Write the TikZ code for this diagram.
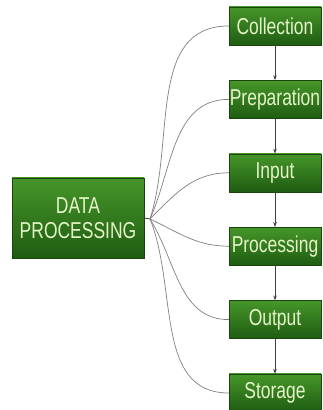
\documentclass[tikz,border=0pt]{standalone}
\usepackage{fontspec}
\setmainfont[FakeStretch=0.76]{Liberation Sans}
\usetikzlibrary{positioning,arrows.meta}
\definecolor{boxtop}{HTML}{46962A}
\definecolor{boxbot}{HTML}{1F5C12}
\definecolor{boxline}{HTML}{1A460C}
\definecolor{boxtext}{HTML}{E4F4C6}
\definecolor{fanline}{HTML}{808080}

\begin{document}
\begin{tikzpicture}[x=1pt, y=1pt,
    stage/.style={draw=boxline, top color=boxtop, bottom color=boxbot, text=boxtext,
      minimum width=92pt, minimum height=38pt, inner sep=0pt,
      font=\fontsize{23}{25}\selectfont},
    fan/.style={fanline, line width=0.7pt},
    flow/.style={black!75, line width=0.7pt, -{Stealth[length=5pt, width=3.5pt]}}]
  \useasboundingbox (0,0) rectangle (322,410);

  % central box
  \node[stage, minimum width=132pt, minimum height=80pt, align=center] (main) at (78,192)
    {DATA\\PROCESSING};
  \coordinate (hub) at (150,191);
  \draw[black!80, line width=0.8pt] (main.east) -- (hub);

  % stages
  \node[stage] (collection) at (275,384) {Collection};
  \node[stage, below=35pt of collection] (preparation) {Preparation};
  \node[stage, below=35pt of preparation] (input) {Input};
  \node[stage, below=35pt of input] (processing) {Processing};
  \node[stage, below=35pt of processing] (output) {Output};
  \node[stage, below=35pt of output] (storage) {Storage};

  % fan of curves
  \draw[fan] (hub) to[out=72, in=180] (collection.west);
  \draw[fan] (hub) to[out=66, in=180] (preparation.west);
  \draw[fan] (hub) to[out=45, in=180] (input.west);
  \draw[fan] (hub) to[out=-25, in=180] (processing.west);
  \draw[fan] (hub) to[out=-58, in=180] (output.west);
  \draw[fan] (hub) to[out=-68, in=180] (storage.west);

  % flow arrows
  \draw[flow] (collection) -- (preparation);
  \draw[flow] (preparation) -- (input);
  \draw[flow] (input) -- (processing);
  \draw[flow] (processing) -- (output);
  \draw[flow] (output) -- (storage);
\end{tikzpicture}
\end{document}
